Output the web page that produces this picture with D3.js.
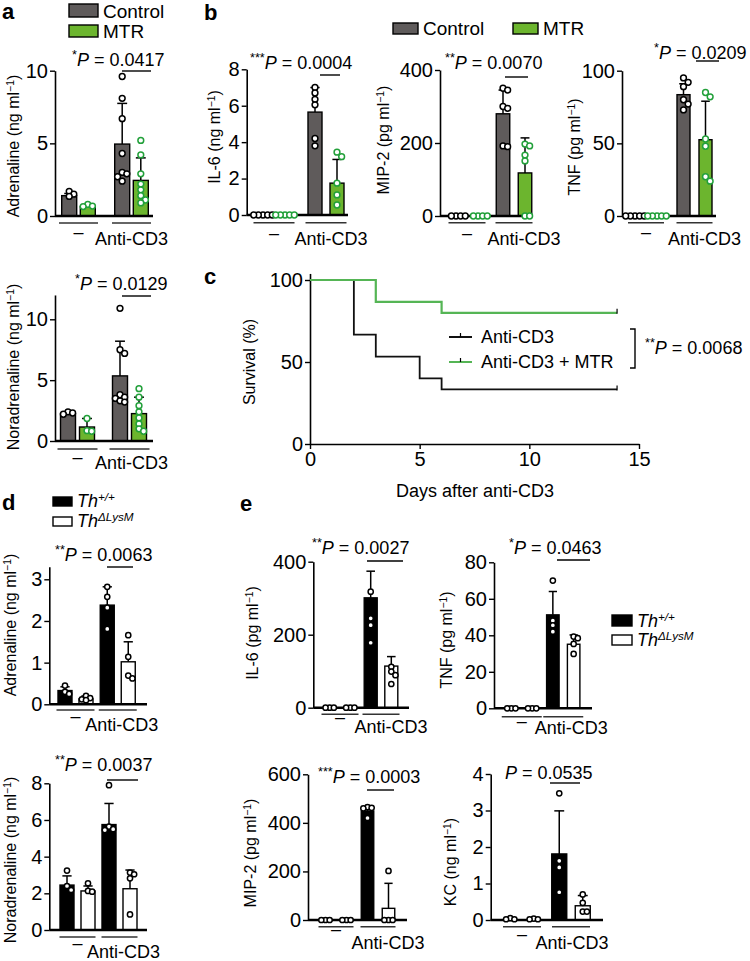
<!DOCTYPE html>
<html><head><meta charset="utf-8">
<script src="https://cdn.jsdelivr.net/npm/d3@7"></script>
<style>body{margin:0;background:#fff}svg{display:block}</style>
</head><body><svg id="fig" width="750" height="961"></svg>
<script>
// ---------------- DATA ----------------
const groups = ["–", "Anti-CD3"];
const seriesAB = ["Control", "MTR"];
const seriesDE = ["Th+/+", "ThΔLysM"];

// [group][series]; err = top of error bar
const aAdrMean = [[1.4, 0.65], [4.95, 2.45]];
const aAdrErr  = [[1.55, 0.75], [7.75, 4.0]];
const aAdrPts  = [[[1.7, 1.5, 1.35], [0.8, 0.68, 0.65]],
                  [[9.6, 8.1, 6.7, 4.3, 3.0, 2.9, 2.7, 2.4], [5.2, 4.2, 2.9, 2.2, 1.8, 1.4, 1.1, 0.9]]];
const aNorMean = [[2.25, 1.15], [5.35, 2.25]];
const aNorErr  = [[2.4, 1.85], [8.2, 3.6]];
const aNorPts  = [[[2.4, 2.3, 2.2], [1.85, 0.85, 0.8]],
                  [[10.9, 7.5, 7.2, 3.8, 3.6, 3.5, 3.3, 3.2], [4.3, 3.6, 2.9, 2.4, 1.9, 1.4, 1.0, 0.8]]];

const bIl6Mean = [[0, 0], [5.65, 1.75]];
const bIl6Err  = [[0, 0], [7.0, 3.05]];
const bIl6Pts  = [[[0, 0, 0, 0, 0], [0, 0, 0, 0, 0]],
                  [[7.0, 6.7, 6.35, 6.05, 4.2, 3.8], [3.45, 3.2, 1.75, 1.1, 0.55]]];
const bMipMean = [[0, 0], [280, 118]];
const bMipErr  = [[0, 0], [345, 214]];
const bMipPts  = [[[0, 0, 0, 0], [0, 0, 0, 0]],
                  [[350, 345, 300, 295, 192, 190], [197, 192, 167, 151, 0, 0]]];
const bTnfMean = [[0, 0], [83.5, 52.5]];
const bTnfErr  = [[0, 0], [91, 79]];
const bTnfPts  = [[[0, 0, 0, 0, 0], [0, 0, 0, 0, 0]],
                  [[95, 92, 89, 80, 77, 73], [85, 82, 53, 48, 27, 24]]];

const survDaysA = [0, 2, 3, 5, 6, 14];
const survA     = [100, 66.7, 53.3, 40, 33.3, 33.3];
const survDaysM = [0, 3, 6, 14];
const survM     = [100, 86.7, 80, 80];
const survTicksX = [0, 5, 10, 15];
const survTicksY = [0, 50, 100];

const dAdrMean = [[0.33, 0.13], [2.38, 1.02]];
const dAdrErr  = [[0.42, 0.2], [2.82, 1.5]];
const dAdrPts  = [[[0.45, 0.3, 0.25], [0.2, 0.15, 0.12, 0.1]],
                  [[2.82, 2.58, 2.32, 1.81], [1.66, 1.14, 0.69, 0.62]]];
const dNorMean = [[2.45, 2.13], [5.75, 2.25]];
const dNorErr  = [[2.95, 2.4], [6.9, 3.27]];
const dNorPts  = [[[3.24, 2.4, 2.18], [2.55, 2.13, 2.09]],
                  [[7.9, 5.64, 5.5, 5.45], [3.13, 3.04, 2.82, 0.85]]];

const eIl6Mean = [[0, 0], [301, 114]];
const eIl6Err  = [[0, 0], [374, 140]];
const eIl6Pts  = [[[0, 0, 0], [0, 0, 0]], [[318, 245, 226, 178], [112, 99, 89, 65]]];
const eTnfMean = [[0, 0], [51.2, 35.1]];
const eTnfErr  = [[0, 0], [64, 40.2]];
const eTnfPts  = [[[0, 0, 0], [0, 0, 0]], [[70, 48, 45.5, 42], [39.3, 38.4, 35.3, 29.8]]];
const eMipMean = [[0, 0], [449, 48]];
const eMipErr  = [[0, 0], [466, 151]];
const eMipPts  = [[[0, 0, 0], [0, 0, 0]], [[465, 462, 460, 420], [202, 0, 0, 0]]];
const eKcMean  = [[0, 0], [1.81, 0.39]];
const eKcErr   = [[0, 0], [2.99, 0.67]];
const eKcPts   = [[[0.05, 0.02, 0.02], [0.04, 0.02, 0.02]], [[3.47, 1.62, 1.44, 0.76], [0.7, 0.47, 0.23, 0.23]]];

// ---------------- STYLE ----------------
const FONT = "'Liberation Sans', Arial, Helvetica, sans-serif";
const FS = 18;      // general text
const FT = 20;      // tick labels
const FY = 16;      // axis titles
const styleAB = {fill: ["#5f5b5b", "#6cb52e"], dot: ["#000", "#22a03a"], r: 2.9};
const styleDE = {fill: ["#000", "#fff"], dot: ["#000", "#000"], r: 2.6};

const svg = d3.select("#fig");

function txt(g, x, y, size, anchor) {
  return g.append("text").attr("x", x).attr("y", y).attr("font-size", size)
    .attr("font-family", FONT).attr("text-anchor", anchor || "start").attr("fill", "#000");
}

function yTitle(g, x, y, label, unit) {
  const t = g.append("text").attr("transform", `translate(${x},${y}) rotate(-90)`)
    .attr("text-anchor", "middle").attr("dy", "0.35em").attr("font-size", FY).attr("font-family", FONT);
  t.append("tspan").text(label + " (" + unit + " ml");
  t.append("tspan").attr("baseline-shift", "super").attr("font-size", FY * 0.65).text("−1");
  t.append("tspan").text(")");
}

function pText(g, x, y, stars, val) {
  const t = txt(g, x, y, FS);
  if (stars) t.append("tspan").attr("baseline-shift", "super").attr("font-size", FS * 0.7).text(stars);
  t.append("tspan").attr("font-style", "italic").text("P");
  t.append("tspan").text(" = " + val);
}

function swarm(vals, y, step) {
  const placed = [];
  return vals.map(v => {
    const py = y(v);
    let off = 0;
    for (let k = 0; k < 30; k++) {
      off = k === 0 ? 0 : (k % 2 ? 1 : -1) * Math.ceil(k / 2) * step;
      if (placed.every(p => Math.hypot(p.x - off, p.y - py) >= step - 0.01)) break;
    }
    placed.push({x: off, y: py});
    return {x: off, y: py};
  });
}

function styleAxis(a) {
  a.select(".domain").attr("stroke", "#000").attr("stroke-width", 1.6);
  a.selectAll(".tick line").attr("stroke", "#000").attr("stroke-width", 1.4);
  a.selectAll(".tick text").attr("font-size", FT).attr("font-family", FONT).attr("fill", "#000");
}

function barChart(c) {
  const g = svg.append("g");
  const st = c.style;
  const ppu = (c.y0 - c.yT) / c.tMax;
  const y = d3.scaleLinear().domain([0, c.aTop]).range([c.y0, c.y0 - ppu * c.aTop]);
  const gx = d3.scalePoint().domain(groups).range([c.g1, c.g2]);
  const sx = d3.scalePoint().domain(c.series).range([-c.half, c.half]);

  const ax = g.append("g").attr("transform", `translate(${c.ax},0)`)
    .call(d3.axisLeft(y).tickValues(c.ticks).tickFormat(d3.format("d"))
      .tickSize(5).tickSizeOuter(0).tickPadding(2));
  styleAxis(ax);

  groups.forEach((gr, gi) => {
    c.series.forEach((s, si) => {
      const cx = gx(gr) + sx(s);
      const m = c.mean[gi][si];
      if (m > 0) {
        g.append("rect").attr("x", cx - c.bw / 2).attr("y", y(m))
          .attr("width", c.bw).attr("height", y(0) - y(m))
          .attr("fill", st.fill[si]).attr("stroke", "#000").attr("stroke-width", 1.4);
        const e = c.err[gi][si];
        if (e > m) {
          g.append("line").attr("x1", cx).attr("x2", cx).attr("y1", y(m)).attr("y2", y(e))
            .attr("stroke", "#000").attr("stroke-width", 1.5);
          g.append("line").attr("x1", cx - c.bw * 0.33).attr("x2", cx + c.bw * 0.33)
            .attr("y1", y(e)).attr("y2", y(e)).attr("stroke", "#000").attr("stroke-width", 1.5);
        }
      }
    });
  });
  g.append("line").attr("x1", c.ax).attr("x2", c.bx).attr("y1", y(0)).attr("y2", y(0))
    .attr("stroke", "#000").attr("stroke-width", 2.4);
  groups.forEach((gr, gi) => {
    c.series.forEach((s, si) => {
      const cx = gx(gr) + sx(s);
      swarm(c.pts[gi][si], y, st.r * 1.6).forEach(p => {
        g.append("circle").attr("cx", cx + p.x).attr("cy", p.y).attr("r", st.r)
          .attr("fill", "#fff").attr("stroke", st.dot[si]).attr("stroke-width", 1.5);
      });
    });
  });
  groups.forEach(gr => {
    g.append("line").attr("x1", gx(gr) - c.glHalf).attr("x2", gx(gr) + c.glHalf)
      .attr("y1", c.glY).attr("y2", c.glY).attr("stroke", "#333").attr("stroke-width", 1.4);
  });
  txt(g, gx(groups[0]), c.dashY + 5, FS, "middle").text("–");
  txt(g, gx(groups[1]) + c.antiDx, c.antiY, FS, "middle").text("Anti-CD3");
  yTitle(g, c.yl[0], c.yl[1], c.yl[2], c.yl[3]);
  pText(g, c.p[0], c.p[1], c.p[2], c.p[3]);
  g.append("line").attr("x1", c.sig[0]).attr("x2", c.sig[1]).attr("y1", c.sig[2]).attr("y2", c.sig[2])
    .attr("stroke", "#000").attr("stroke-width", 1.4);
}

// ---------------- CHARTS ----------------
barChart({style: styleAB, series: seriesAB, mean: aAdrMean, err: aAdrErr, pts: aAdrPts,
  ax: 55, bx: 153, y0: 216, yT: 70.7, tMax: 10, aTop: 10, ticks: [0, 5, 10],
  g1: 78.5, g2: 131.5, half: 9.3, bw: 15, glY: 223, glHalf: 19.5, dashY: 233, antiDx: 0, antiY: 245,
  yl: [13, 146, "Adrenaline", "ng"], p: [72, 66, "*", "0.0417"], sig: [122, 151, 71]});
barChart({style: styleAB, series: seriesAB, mean: aNorMean, err: aNorErr, pts: aNorPts,
  ax: 55, bx: 153, y0: 441, yT: 319.3, tMax: 10, aTop: 12, ticks: [0, 5, 10],
  g1: 77.5, g2: 129.5, half: 9.5, bw: 15, glY: 449, glHalf: 20, dashY: 458, antiDx: 2, antiY: 469,
  yl: [13, 367, "Noradrenaline", "ng"], p: [75, 290, "*", "0.0129"], sig: [122, 151, 296]});

barChart({style: styleAB, series: seriesAB, mean: bIl6Mean, err: bIl6Err, pts: bIl6Pts,
  ax: 246.7, bx: 348, y0: 215, yT: 69.3, tMax: 8, aTop: 8, ticks: [0, 2, 4, 6, 8],
  g1: 274, g2: 326, half: 11, bw: 14, glY: 222.7, glHalf: 20.5, dashY: 234, antiDx: 5, antiY: 245,
  yl: [214, 137, "IL-6", "ng"], p: [250, 69, "***", "0.0004"], sig: [320, 340, 75]});
barChart({style: styleAB, series: seriesAB, mean: bMipMean, err: bMipErr, pts: bMipPts,
  ax: 440, bx: 533, y0: 216, yT: 70, tMax: 400, aTop: 400, ticks: [0, 200, 400],
  g1: 467, g2: 514, half: 11, bw: 13.5, glY: 222.7, glHalf: 18.5, dashY: 234, antiDx: 10, antiY: 245,
  yl: [383, 140, "MIP-2", "pg"], p: [445, 69, "**", "0.0070"], sig: [505, 528, 77]});
barChart({style: styleAB, series: seriesAB, mean: bTnfMean, err: bTnfErr, pts: bTnfPts,
  ax: 622, bx: 716, y0: 216, yT: 70.7, tMax: 100, aTop: 100, ticks: [0, 50, 100],
  g1: 646, g2: 694.5, half: 11, bw: 13, glY: 222.7, glHalf: 18, dashY: 233, antiDx: 10, antiY: 245,
  yl: [574, 147, "TNF", "pg"], p: [654, 59, "*", "0.0209"], sig: [696, 719, 61]});

barChart({style: styleDE, series: seriesDE, mean: dAdrMean, err: dAdrErr, pts: dAdrPts,
  ax: 49.3, bx: 147, y0: 704.3, yT: 579.3, tMax: 3, aTop: 3.3, ticks: [0, 1, 2, 3],
  g1: 75.5, g2: 117.75, half: 10.5, bw: 14, glY: 710, glHalf: 19, dashY: 717, antiDx: 4, antiY: 731,
  yl: [10, 625, "Adrenaline", "ng"], p: [55, 561, "**", "0.0063"], sig: [107, 133, 567]});
barChart({style: styleDE, series: seriesDE, mean: dNorMean, err: dNorErr, pts: dNorPts,
  ax: 49.3, bx: 147, y0: 930, yT: 783.3, tMax: 8, aTop: 8, ticks: [0, 2, 4, 6, 8],
  g1: 77.5, g2: 119.5, half: 10.5, bw: 14, glY: 937, glHalf: 18, dashY: 944, antiDx: 4, antiY: 958,
  yl: [10, 860, "Noradrenaline", "ng"], p: [55, 771, "**", "0.0037"], sig: [107, 138, 780]});

barChart({style: styleDE, series: seriesDE, mean: eIl6Mean, err: eIl6Err, pts: eIl6Pts,
  ax: 313.3, bx: 409, y0: 707.7, yT: 561.7, tMax: 400, aTop: 400, ticks: [0, 200, 400],
  g1: 340, g2: 381, half: 10.3, bw: 13, glY: 714.3, glHalf: 18.5, dashY: 718, antiDx: 10, antiY: 733,
  yl: [252, 633, "IL-6", "pg"], p: [312, 554, "**", "0.0027"], sig: [367, 403, 561]});
barChart({style: styleDE, series: seriesDE, mean: eTnfMean, err: eTnfErr, pts: eTnfPts,
  ax: 494, bx: 592, y0: 708.3, yT: 562.3, tMax: 80, aTop: 80, ticks: [0, 20, 40, 60, 80],
  g1: 521.75, g2: 563.25, half: 10.4, bw: 12.5, glY: 716.7, glHalf: 20, dashY: 722, antiDx: 8, antiY: 734,
  yl: [446, 640, "TNF", "pg"], p: [509, 554, "*", "0.0463"], sig: [557, 590, 560]});
barChart({style: styleDE, series: seriesDE, mean: eMipMean, err: eMipErr, pts: eMipPts,
  ax: 308, bx: 407, y0: 920, yT: 774.3, tMax: 600, aTop: 600, ticks: [0, 200, 400, 600],
  g1: 336, g2: 378, half: 10.5, bw: 12.5, glY: 926.7, glHalf: 17.5, dashY: 930, antiDx: 10, antiY: 949,
  yl: [250, 853, "MIP-2", "pg"], p: [318, 783, "***", "0.0003"], sig: [367, 394, 790]});
barChart({style: styleDE, series: seriesDE, mean: eKcMean, err: eKcErr, pts: eKcPts,
  ax: 490.7, bx: 603, y0: 920, yT: 774, tMax: 4, aTop: 4, ticks: [0, 1, 2, 3, 4],
  g1: 522, g2: 571, half: 11.75, bw: 15, glY: 926.7, glHalf: 19, dashY: 935, antiDx: 1, antiY: 949,
  yl: [450, 862, "KC", "ng"], p: [505, 779, "", "0.0535"], sig: [550, 580, 783]});

// ---------------- SURVIVAL (c) ----------------
(function () {
  const g = svg.append("g");
  const x = d3.scaleLinear().domain([0, 15]).range([310, 639]);
  const y = d3.scaleLinear().domain([0, 104]).range([444, 444 - 1.64 * 104]);
  const ya = g.append("g").attr("transform", "translate(310,0)")
    .call(d3.axisLeft(y).tickValues(survTicksY).tickSize(5).tickSizeOuter(0).tickPadding(2));
  const xa = g.append("g").attr("transform", "translate(0,444)")
    .call(d3.axisBottom(x).tickValues(survTicksX).tickSize(5).tickSizeOuter(0).tickPadding(3));
  styleAxis(ya); styleAxis(xa);
  const line = d3.line().curve(d3.curveStepAfter).x(d => x(d[0])).y(d => y(d[1]));
  g.append("path").attr("d", line(survDaysA.map((d, i) => [d, survA[i]])))
    .attr("fill", "none").attr("stroke", "#111").attr("stroke-width", 1.8);
  g.append("path").attr("d", line(survDaysM.map((d, i) => [d, survM[i]])))
    .attr("fill", "none").attr("stroke", "#55b555").attr("stroke-width", 2.2);
  [[survDaysA, survA], [survDaysM, survM]].forEach(([dd, vv]) => {
    const n = dd.length - 1;
    g.append("line").attr("x1", x(dd[n])).attr("x2", x(dd[n])).attr("y1", y(vv[n]) - 4).attr("y2", y(vv[n]) + 1)
      .attr("stroke", "#000").attr("stroke-width", 1.2);
  });
  g.append("text").attr("transform", "translate(249,362) rotate(-90)").attr("text-anchor", "middle")
    .attr("dy", "0.35em").attr("font-size", FY).attr("font-family", FONT).text("Survival (%)");
  txt(g, 475, 497, FS, "middle").text("Days after anti-CD3");
  [["Anti-CD3", "#111", 337], ["Anti-CD3 + MTR", "#55b555", 362]].forEach(([lab, col, ly]) => {
    g.append("line").attr("x1", 449).attr("x2", 472).attr("y1", ly).attr("y2", ly).attr("stroke", col).attr("stroke-width", 2);
    g.append("line").attr("x1", 460.5).attr("x2", 460.5).attr("y1", ly - 4).attr("y2", ly).attr("stroke", "#000").attr("stroke-width", 1.2);
    txt(g, 481, ly + 6, FS).text(lab);
  });
  g.append("path").attr("d", "M630,329H635V368H630").attr("fill", "none").attr("stroke", "#000").attr("stroke-width", 1.4);
  pText(g, 645, 354, "**", "0.0068");
})();

// ---------------- LEGENDS & PANEL LETTERS ----------------
function legendBox(x, y, w, h, fill, label, size, italicTh) {
  svg.append("rect").attr("x", x).attr("y", y).attr("width", w).attr("height", h)
    .attr("fill", fill).attr("stroke", "#000").attr("stroke-width", 1.4);
  const t = txt(svg, x + w + 5, y + h + 0.5, size);
  if (italicTh) {
    t.append("tspan").attr("font-style", "italic").text("Th");
    t.append("tspan").attr("font-style", "italic").attr("baseline-shift", "super").attr("font-size", size * 0.65).text(label);
  } else t.text(label);
}
legendBox(69, 4, 29, 13, styleAB.fill[0], seriesAB[0], 19);
legendBox(69, 25, 29, 12, styleAB.fill[1], seriesAB[1], 19);
legendBox(393, 23, 25, 11, styleAB.fill[0], seriesAB[0], 19);
legendBox(513, 23, 25, 11, styleAB.fill[1], seriesAB[1], 19);
legendBox(53, 497, 19, 9, "#000", "+/+", 18, true);
legendBox(53, 517, 19, 9, "#fff", "ΔLysM", 18, true);
legendBox(612, 615, 20, 11, "#000", "+/+", 18, true);
legendBox(612, 635, 20, 10, "#fff", "ΔLysM", 18, true);

[["a", 2, 19], ["b", 204, 20], ["c", 204, 284], ["d", 2, 510], ["e", 240, 511]].forEach(([l, x, y]) => {
  txt(svg, x, y, 22).attr("font-weight", "bold").text(l);
});
</script></body></html>
